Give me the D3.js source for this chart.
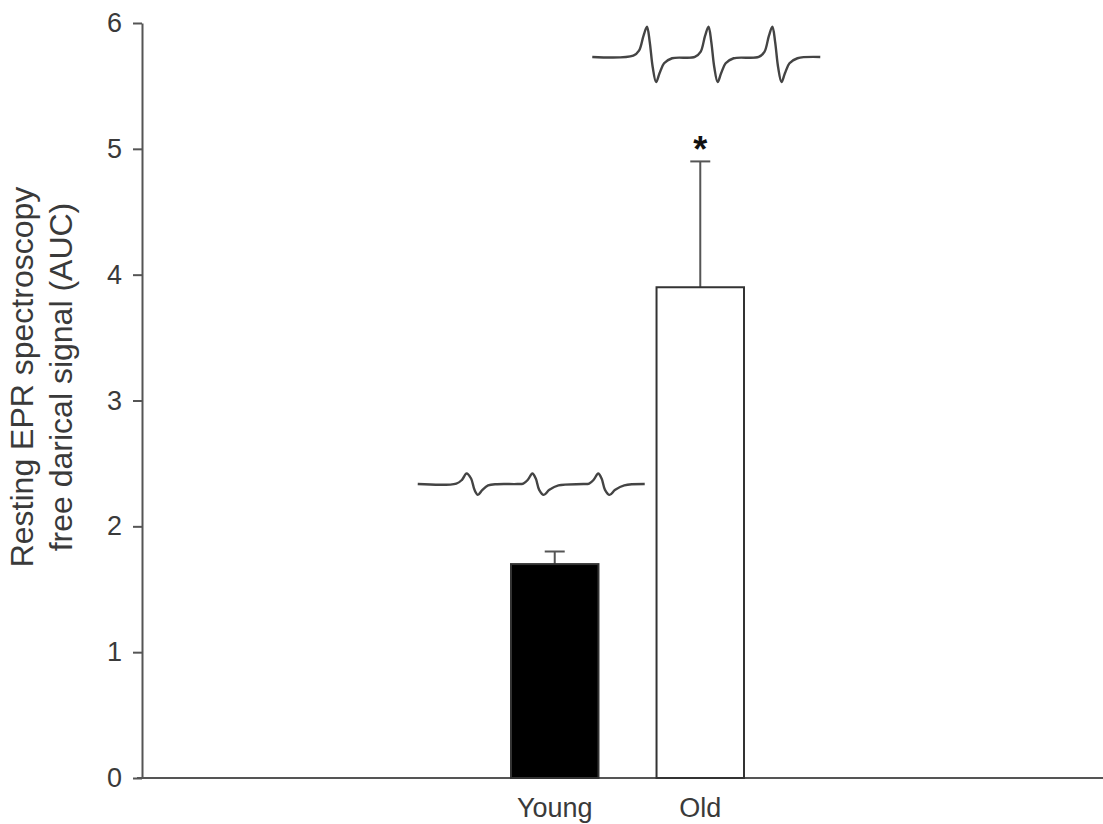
<!DOCTYPE html>
<html>
<head>
<meta charset="utf-8">
<script src="https://cdn.jsdelivr.net/npm/d3@7"></script>
<style>
  body { margin: 0; background: #fff; }
  svg { display: block; font-family: "Liberation Sans", Arial, sans-serif; }
  .axis path, .axis line { stroke: #555; stroke-width: 2; }
  .axis text { fill: #3a3a3a; font-size: 27px; }
</style>
</head>
<body>
<svg id="chart" width="1103" height="824"></svg>
<script>
// bar data
var groups = ["Young", "Old"];
var means = [1.7, 3.9];
var sems = [0.1, 1.0];
var fills = ["#000", "#fff"];
var yTicks = [0, 1, 2, 3, 4, 5, 6];
var yLabel = ["Resting EPR spectroscopy", "free darical signal (AUC)"];

// EPR trace insets, field position (0-100) vs signal level in y units
var oldField = [0, 18, 20.5, 22.5, 24, 25.2, 26.5, 28, 29.5, 31.5, 35, 45, 47.5, 49.5, 51, 52.2, 53.5, 55, 56.5, 58.5, 62, 73, 75.5, 77.5, 79, 80.2, 81.5, 83, 84.5, 86.5, 90, 100];
var oldSignal = [5.73, 5.74, 5.78, 5.9, 5.97, 5.85, 5.65, 5.53, 5.6, 5.68, 5.72, 5.73, 5.77, 5.9, 5.97, 5.85, 5.65, 5.53, 5.6, 5.68, 5.72, 5.73, 5.77, 5.9, 5.97, 5.85, 5.65, 5.53, 5.6, 5.68, 5.72, 5.73];
var youngField = [0, 17, 19.5, 21.5, 23.5, 25, 26.5, 28.5, 31, 35, 44, 46.5, 48.5, 50.5, 52, 53.5, 55.5, 58, 62, 73, 75.5, 77.5, 79.5, 81, 82.5, 84.5, 87, 91, 100];
var youngSignal = [2.336, 2.34, 2.37, 2.42, 2.38, 2.29, 2.25, 2.29, 2.325, 2.335, 2.336, 2.34, 2.37, 2.42, 2.38, 2.29, 2.25, 2.29, 2.325, 2.336, 2.34, 2.37, 2.42, 2.38, 2.29, 2.25, 2.29, 2.325, 2.336];

var svg = d3.select("#chart");
var plotLeft = 142, plotRight = 1103, plotTop = 23, plotBottom = 778;

var x = d3.scaleBand().domain(groups).range([511, 744]).paddingInner(0.399).paddingOuter(0);
var y = d3.scaleLinear().domain([0, 6]).range([plotBottom, plotTop]);

// y axis
svg.append("g")
  .attr("class", "axis")
  .attr("transform", "translate(" + plotLeft + ",0)")
  .call(d3.axisLeft(y).tickValues(yTicks).tickFormat(d3.format("d"))
    .tickSize(9).tickSizeOuter(0).tickPadding(11));

// x axis
svg.append("g")
  .attr("class", "axis")
  .attr("transform", "translate(0," + plotBottom + ")")
  .call(d3.axisBottom(x).tickSize(0).tickPadding(20))
  .call(function(g) { g.select(".domain").attr("d", "M" + (plotLeft - 5) + ",0H" + plotRight); });

var data = groups.map(function(g, i) { return {group: g, mean: means[i], sem: sems[i], fill: fills[i]}; });

// error bars (up only)
var err = svg.append("g").attr("stroke", "#555").attr("stroke-width", 2);
err.selectAll(".stem")
  .data(data).enter().append("line")
    .attr("x1", function(d) { return x(d.group) + x.bandwidth() / 2; })
    .attr("x2", function(d) { return x(d.group) + x.bandwidth() / 2; })
    .attr("y1", function(d) { return y(d.mean); })
    .attr("y2", function(d) { return y(d.mean + d.sem); });
err.selectAll(".cap")
  .data(data).enter().append("line")
    .attr("x1", function(d) { return x(d.group) + x.bandwidth() / 2 - 10; })
    .attr("x2", function(d) { return x(d.group) + x.bandwidth() / 2 + 10; })
    .attr("y1", function(d) { return y(d.mean + d.sem); })
    .attr("y2", function(d) { return y(d.mean + d.sem); });

// bars
svg.append("g")
  .selectAll("rect")
  .data(data).enter().append("rect")
    .attr("x", function(d) { return x(d.group); })
    .attr("y", function(d) { return y(d.mean); })
    .attr("width", x.bandwidth())
    .attr("height", function(d) { return y(0) - y(d.mean); })
    .attr("fill", function(d) { return d.fill; })
    .attr("stroke", "#333")
    .attr("stroke-width", 2);

// significance star
svg.append("text")
  .attr("x", x("Old") + x.bandwidth() / 2)
  .attr("y", y(means[1] + sems[1]) + 1)
  .attr("text-anchor", "middle")
  .attr("font-size", 36)
  .attr("font-weight", "bold")
  .attr("fill", "#111")
  .text("*");

// EPR traces
function drawTrace(field, signal, x0, x1) {
  var fx = d3.scaleLinear().domain([0, 100]).range([x0, x1]);
  var line = d3.line()
    .x(function(d) { return fx(d[0]); })
    .y(function(d) { return y(d[1]); })
    .curve(d3.curveCatmullRom);
  svg.append("path")
    .datum(d3.zip(field, signal))
    .attr("d", line)
    .attr("fill", "none")
    .attr("stroke", "#444")
    .attr("stroke-width", 2.4);
}
var cy = x("Young") + x.bandwidth() / 2, co = x("Old") + x.bandwidth() / 2;
drawTrace(youngField, youngSignal, cy - 137, cy + 90);
drawTrace(oldField, oldSignal, co - 108, co + 120);

// y axis title
var title = svg.append("text")
  .attr("transform", "translate(0,377) rotate(-90)")
  .attr("text-anchor", "middle")
  .attr("font-size", 32)
  .attr("fill", "#3a3a3a");
title.selectAll("tspan")
  .data(yLabel).enter().append("tspan")
    .attr("x", 0)
    .attr("y", function(d, i) { return 33 + i * 39; })
    .text(function(d) { return d; });
</script>
</body>
</html>
